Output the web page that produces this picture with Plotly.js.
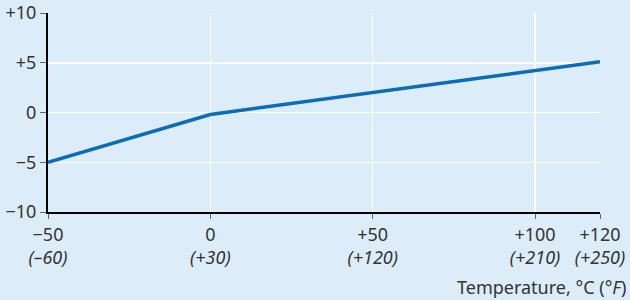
<!DOCTYPE html>
<html><head><meta charset="utf-8">
<script src="https://cdn.plot.ly/plotly-3.0.1.min.js"></script>
<style>html,body{margin:0;padding:0;background:#dcedf9}</style>
</head><body><div id="c" style="width:630px;height:300px"></div>
<script>
const tempC = [-50, 0, 120];
const values = [-5, -0.2, 5.1];
const xTickVals = [-50, 0, 50, 100, 120];
const xTickC = ["\u221250", "0", "+50", "+100", "+120"];
const xTickF = ["(\u201360)", "(+30)", "(+120)", "(+210)", "(+250)"];
const yTickVals = [-10, -5, 0, 5, 10];
const yTickText = ["\u221210", "\u22125", "0", "+5", "+10"];

const font = {family: "Noto Sans, Open Sans, sans-serif", size: 18, color: "#333"};
Plotly.newPlot("c", [{
  x: tempC, y: values, type: "scatter", mode: "lines",
  line: {color: "#0b6cb8", width: 3.5}, hoverinfo: "skip"
}], {
  width: 630, height: 300,
  margin: {l: 48, r: 30, t: 13, b: 88},
  paper_bgcolor: "#dcedf9", plot_bgcolor: "#dcedf9",
  font: font, showlegend: false,
  xaxis: {range: [-50, 120], tickvals: xTickVals,
    ticktext: xTickC.map((c, i) => c + "<br><i>" + xTickF[i] + "</i>"),
    showgrid: true, gridcolor: "#ffffff", gridwidth: 1.5, zeroline: false,
    showline: true, linecolor: "#000", linewidth: 2,
    ticks: "outside", ticklen: 5, tickcolor: "#666", tickwidth: 1, fixedrange: true},
  yaxis: {range: [-10, 10], tickvals: yTickVals, ticktext: yTickText,
    showgrid: true, gridcolor: "#ffffff", gridwidth: 1.5, zeroline: false,
    showline: true, linecolor: "#000", linewidth: 2,
    ticks: "outside", ticklen: 6, tickcolor: "#666", tickwidth: 1, fixedrange: true},
  annotations: [{text: "Temperature, \u00b0C (<i>\u00b0F</i>)", xref: "paper", yref: "paper",
    x: 1.05, y: 0, yshift: -61, xanchor: "right", yanchor: "top", showarrow: false, font: font}]
}, {displayModeBar: false, staticPlot: true});
</script></body></html>
